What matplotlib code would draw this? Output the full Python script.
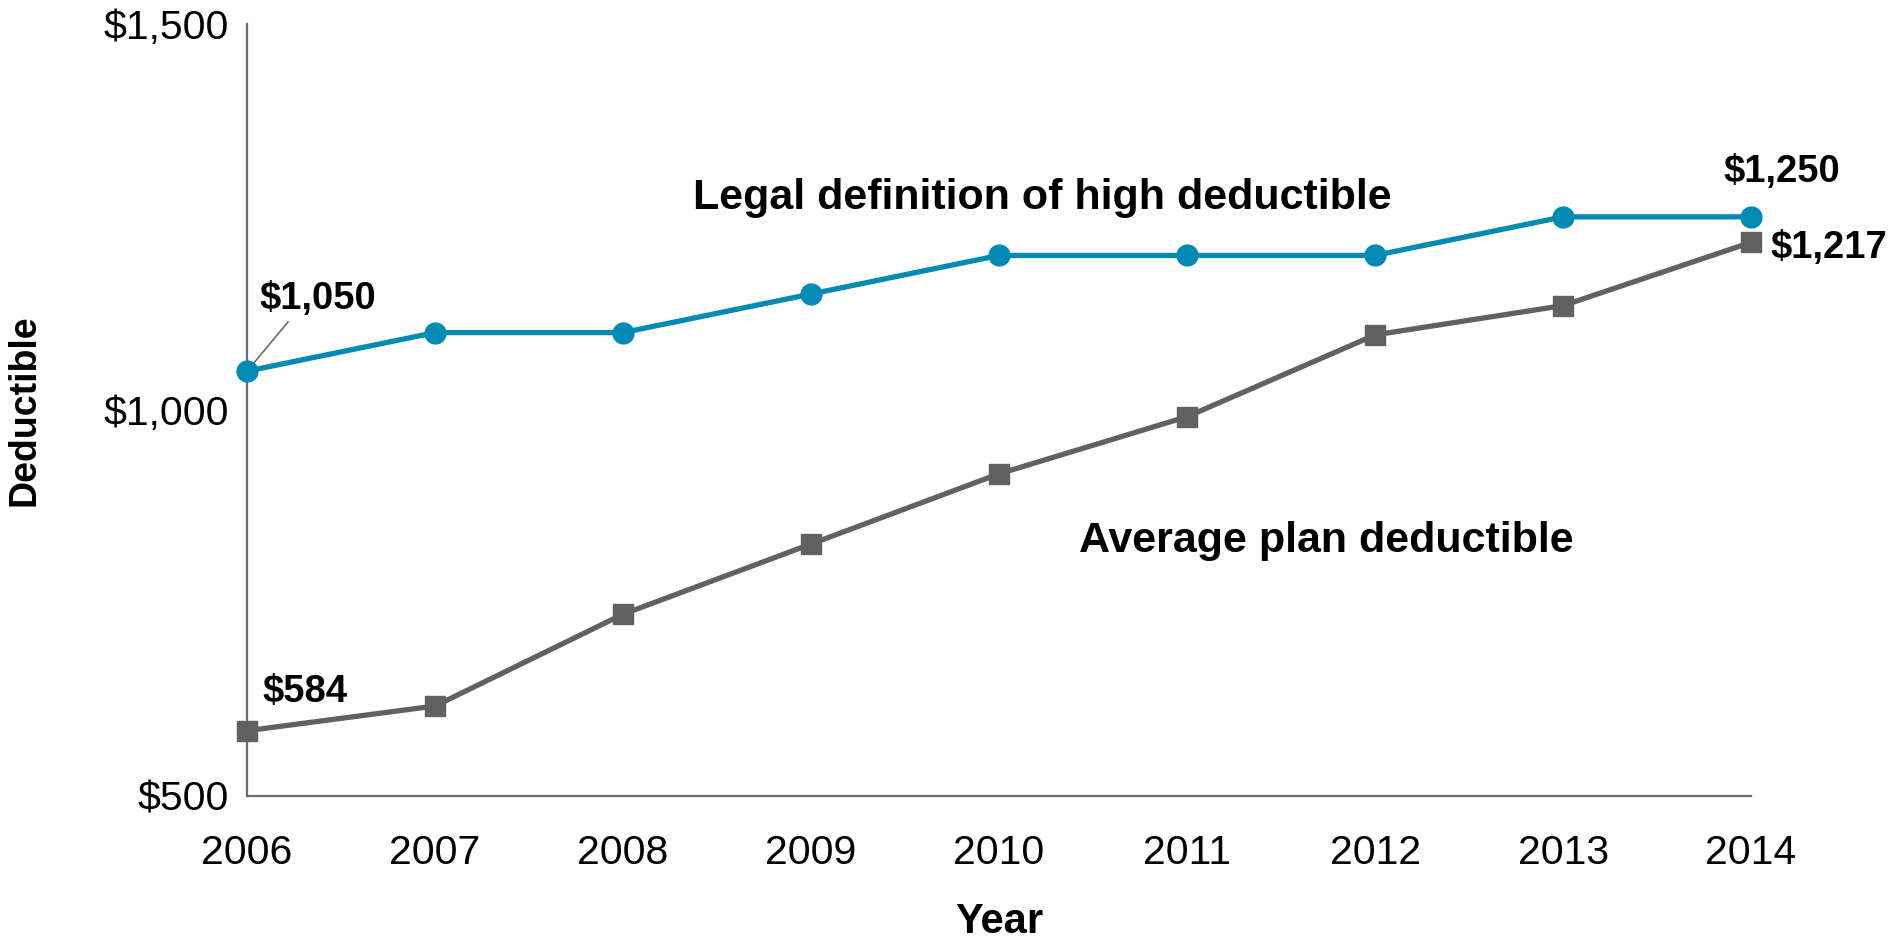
import matplotlib
matplotlib.use("Agg")
import matplotlib.pyplot as plt
from matplotlib.ticker import FuncFormatter

years = [2006, 2007, 2008, 2009, 2010, 2011, 2012, 2013, 2014]
legal_min = [1050, 1100, 1100, 1150, 1200, 1200, 1200, 1250, 1250]
avg_deductible = [584, 616, 735, 826, 917, 991, 1097, 1135, 1217]
y_ticks = [500, 1000, 1500]
legal_label = "Legal definition of high deductible"
avg_label = "Average plan deductible"

BLUE = "#008AB4"
GRAY = "#616161"
AXIS = "#6B6B6B"
REG = ["Liberation Sans", "DejaVu Sans"]

fig = plt.figure(figsize=(18.9, 9.44), dpi=100)
ax = fig.add_axes([0.1307, 0.1573, 0.7958, 0.8173])

ax.plot(years, legal_min, color=BLUE, lw=3.8, marker="o", ms=15,
        mec=BLUE, mfc=BLUE, zorder=3, clip_on=False)
ax.plot(years, avg_deductible, color=GRAY, lw=3.8, marker="s", ms=14,
        mec=GRAY, mfc=GRAY, zorder=3, clip_on=False)

ax.set_xlim(years[0], years[-1])
ax.set_ylim(y_ticks[0], y_ticks[-1])
ax.set_xticks(years)
ax.set_yticks(y_ticks)
ax.yaxis.set_major_formatter(FuncFormatter(lambda v, p: f"${v:,.0f}"))

for s in ["top", "right"]:
    ax.spines[s].set_visible(False)
for s in ["left", "bottom"]:
    ax.spines[s].set_color(AXIS)
    ax.spines[s].set_linewidth(1.6)

ax.tick_params(axis="both", length=0)
ax.tick_params(axis="x", pad=28)
ax.tick_params(axis="y", pad=13)
for lab in ax.get_xticklabels() + ax.get_yticklabels():
    lab.set_fontfamily(REG)
    lab.set_fontsize(29.5)
    lab.set_color("black")

yl = ax.set_ylabel("Deductible", fontsize=27, fontweight="bold", family=REG)
yl.set_va("center")
ax.yaxis.set_label_coords(-0.148, 0.5)
xl = ax.set_xlabel("Year", fontsize=30, fontweight="bold", family=REG)
xl.set_va("center")
ax.xaxis.set_label_coords(0.5, -0.164)

bold = dict(fontsize=27.5, fontweight="bold", family=REG, color="black")
big = dict(fontsize=31, fontweight="bold", family=REG, color="black")

# value labels
ax.annotate(f"${legal_min[0]:,}", xy=(years[0], legal_min[0]),
            xytext=(9, 52), textcoords="offset points", ha="left", va="center",
            arrowprops=dict(arrowstyle="-", color=AXIS, lw=1.2,
                            shrinkA=2, shrinkB=8,
                            relpos=(0.28, 0.0)), **bold)
ax.annotate(f"${avg_deductible[0]:,}", xy=(years[0], avg_deductible[0]),
            xytext=(11, 28), textcoords="offset points", ha="left", va="center", **bold)
ax.annotate(f"${legal_min[-1]:,}", xy=(years[-1], legal_min[-1]),
            xytext=(22, 32), textcoords="offset points", ha="center", va="center", **bold)
ax.annotate(f"${avg_deductible[-1]:,}", xy=(years[-1], avg_deductible[-1]),
            xytext=(14, -4), textcoords="offset points", ha="left", va="center", **bold)

# series labels
ax.text(2010.23, 1275, legal_label, ha="center", va="center", **big)
ax.text(2011.74, 830, avg_label, ha="center", va="center", **big)

fig.savefig("out.png", dpi=100)
